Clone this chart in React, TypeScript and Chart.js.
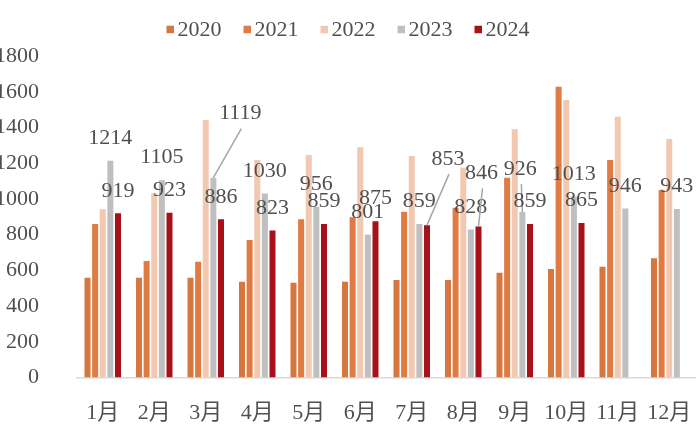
import React, { useEffect, useRef } from 'react';
import { Chart, registerables } from 'chart.js';

Chart.register(...registerables);

const months = ['1月', '2月', '3月', '4月', '5月', '6月', '7月', '8月', '9月', '10月', '11月', '12月'];
const seriesNames = ['2020', '2021', '2022', '2023', '2024'];
const s2020 = [559, 559, 559, 536, 531, 536, 546, 546, 587, 608, 620, 667];
const s2021 = [859, 652, 648, 770, 886, 897, 928, 951, 1119, 1628, 1218, 1050];
const s2022 = [942, 1031, 1441, 1218, 1246, 1289, 1240, 1175, 1390, 1554, 1460, 1335];
const s2023 = [1214, 1105, 1119, 1030, 956, 801, 859, 828, 926, 1013, 946, 943];
const s2024 = [919, 923, 886, 823, 859, 875, 853, 846, 859, 865, null, null];
const yMin = 0;
const yMax = 1800;
const yStep = 200;

const colors = ['#D5773F', '#E07B43', '#F2C8B1', '#BFBFBF', '#A8101A'];
const labelledSeries = [3, 4];
// label offsets in px relative to default position (bar top), with leader lines
const labelOffsets: Record<string, [number, number]> = {
  '3-2': [27, -65],
  '4-6': [21, -67],
  '4-7': [3, -54],
  '3-8': [-2, -44],
};

const FONT = "'Liberation Serif', 'Noto Sans CJK SC', serif";
const TEXT = '#505050';

const legendPlugin = {
  id: 'customLegend',
  afterDraw(chart: any) {
    const ctx = chart.ctx;
    ctx.save();
    ctx.font = `22px ${FONT}`;
    ctx.textBaseline = 'middle';
    ctx.textAlign = 'left';
    const box = 7.5;
    const gap = 3.5;
    const itemGap = 22;
    const ds = chart.data.datasets;
    const widths = ds.map((d: any) => box + gap + ctx.measureText(d.label).width);
    const total = widths.reduce((a: number, b: number) => a + b, 0) + itemGap * (ds.length - 1);
    let x = 348 - total / 2;
    const cy = 29.5;
    ds.forEach((d: any, i: number) => {
      ctx.fillStyle = d.backgroundColor;
      ctx.fillRect(x, cy - box / 2, box, box);
      ctx.fillStyle = TEXT;
      ctx.fillText(d.label, x + box + gap, cy + 1);
      x += widths[i] + itemGap;
    });
    ctx.restore();
  },
};

const labelPlugin = {
  id: 'barLabels',
  afterDatasetsDraw(chart: any) {
    const ctx = chart.ctx;
    ctx.save();
    ctx.font = `22px ${FONT}`;
    ctx.textAlign = 'center';
    ctx.textBaseline = 'middle';
    labelledSeries.forEach((di) => {
      const meta = chart.getDatasetMeta(di);
      const data = chart.data.datasets[di].data;
      meta.data.forEach((el: any, i: number) => {
        const v = data[i];
        if (v === null || v === undefined) return;
        const key = `${di}-${i}`;
        const off = labelOffsets[key];
        let lx = el.x;
        let ly = el.y - 23.5;
        if (off) {
          lx = el.x + off[0];
          ly = el.y + off[1];
          ctx.strokeStyle = '#A6A6A6';
          ctx.lineWidth = 1.5;
          ctx.beginPath();
          ctx.moveTo(el.x, el.y);
          ctx.lineTo(lx + 1, ly + 16);
          ctx.stroke();
        }
        ctx.fillStyle = TEXT;
        ctx.fillText(String(v), lx, ly + 1);
      });
    });
    ctx.restore();
  },
};

export default function App() {
  const ref = useRef<HTMLCanvasElement | null>(null);
  useEffect(() => {
    if (!ref.current) return;
    const series = [s2020, s2021, s2022, s2023, s2024];
    const chart = new Chart(ref.current, {
      type: 'bar',
      data: {
        labels: months,
        datasets: series.map((s, i) => ({
          label: seriesNames[i],
          data: s,
          backgroundColor: colors[i],
          borderWidth: 0,
          categoryPercentage: 0.74,
          barPercentage: 0.79,
        })),
      },
      options: {
        responsive: false,
        animation: false,
        layout: { padding: { top: 56, right: 5, left: 0, bottom: 0 } },
        plugins: {
          legend: { display: false },
          tooltip: { enabled: false },
        },
        scales: {
          x: {
            grid: { display: false },
            border: { display: true, color: '#D9D9D9', width: 1.5 },
            ticks: {
              color: TEXT,
              font: { family: FONT, size: 22 },
              padding: 15,
              maxRotation: 0,
              autoSkip: false,
            },
            afterFit: (scale: any) => {
              scale.height = 49.5;
              scale.paddingLeft = 0;
              scale.paddingRight = 0;
            },
          },
          y: {
            min: yMin,
            max: yMax,
            grid: { display: false },
            border: { display: false },
            ticks: {
              stepSize: yStep,
              color: TEXT,
              font: { family: FONT, size: 22 },
              padding: 30,
              callback: (v: any) => String(v),
            },
            afterFit: (scale: any) => {
              scale.width = 77;
              scale.paddingTop = 0;
              scale.paddingBottom = 0;
            },
          },
        },
      },
      plugins: [legendPlugin, labelPlugin],
    });
    return () => chart.destroy();
  }, []);
  return (
    <div style={{ position: 'fixed', left: 0, top: 0, width: 700, height: 427, background: '#fff' }}>
      <canvas ref={ref} width={700} height={427} style={{ display: 'block' }} />
    </div>
  );
}
